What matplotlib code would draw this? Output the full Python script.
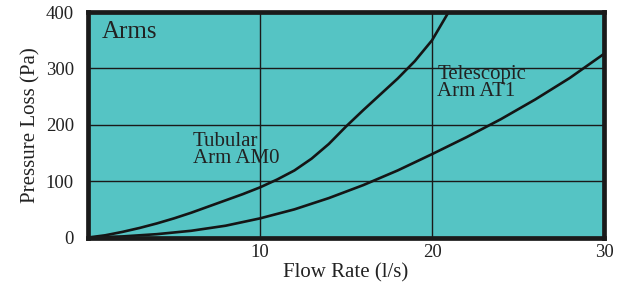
import matplotlib.pyplot as plt

# values
tubular_x = [0, 1, 2, 3, 4, 5, 6, 7, 8, 9, 10, 11, 12, 13, 14, 15, 16, 17, 18, 19, 20, 21]
tubular_y = [0, 4, 10, 17, 25, 34, 44, 55, 66, 77, 89, 103, 119, 140, 166, 197, 226, 254, 282, 313, 350, 402]

telescopic_x = [0, 2, 4, 6, 8, 10, 12, 14, 16, 18, 20, 22, 24, 26, 28, 30]
telescopic_y = [0, 2, 6, 12, 21, 34, 50, 70, 93, 119, 148, 178, 210, 245, 283, 326]

x_ticks = [10, 20, 30]
y_ticks = [0, 100, 200, 300, 400]

plt.rcParams['font.family'] = ['Liberation Serif', 'DejaVu Serif']

fig = plt.figure(figsize=(6.28, 2.94), dpi=100)
ax = fig.add_axes([0.140, 0.192, 0.822, 0.767])
ax.set_facecolor('#55c4c4')

ax.plot(tubular_x, tubular_y, color='#151515', lw=1.9, solid_capstyle='butt')
ax.plot(telescopic_x, telescopic_y, color='#151515', lw=1.9, solid_capstyle='butt')

ax.set_xlim(0, 30)
ax.set_ylim(0, 400)
ax.set_xticks(x_ticks)
ax.set_yticks(y_ticks)
ax.tick_params(length=0, labelsize=13.5, colors='#222222')
ax.tick_params(axis='y', pad=10)
ax.tick_params(axis='x', pad=5)
ax.grid(True, color='#1a1a1a', lw=1.0)
ax.set_axisbelow(True)
for s in ax.spines.values():
    s.set_linewidth(3.4)
    s.set_color('#1a1a1a')

ax.set_xlabel('Flow Rate (l/s)', fontsize=15, color='#222222', labelpad=1)
ax.set_ylabel('Pressure Loss (Pa)', fontsize=15, color='#222222', labelpad=4)

ax.text(0.8, 365, 'Arms', fontsize=18, color='#222222', va='center')
ax.text(6.1, 155, 'Tubular\nArm AM0', fontsize=15, color='#222222',
        va='center', linespacing=0.85)
ax.text(20.3, 274, 'Telescopic\nArm AT1', fontsize=15, color='#222222',
        va='center', linespacing=0.85)

fig.savefig('out.png', dpi=100)
